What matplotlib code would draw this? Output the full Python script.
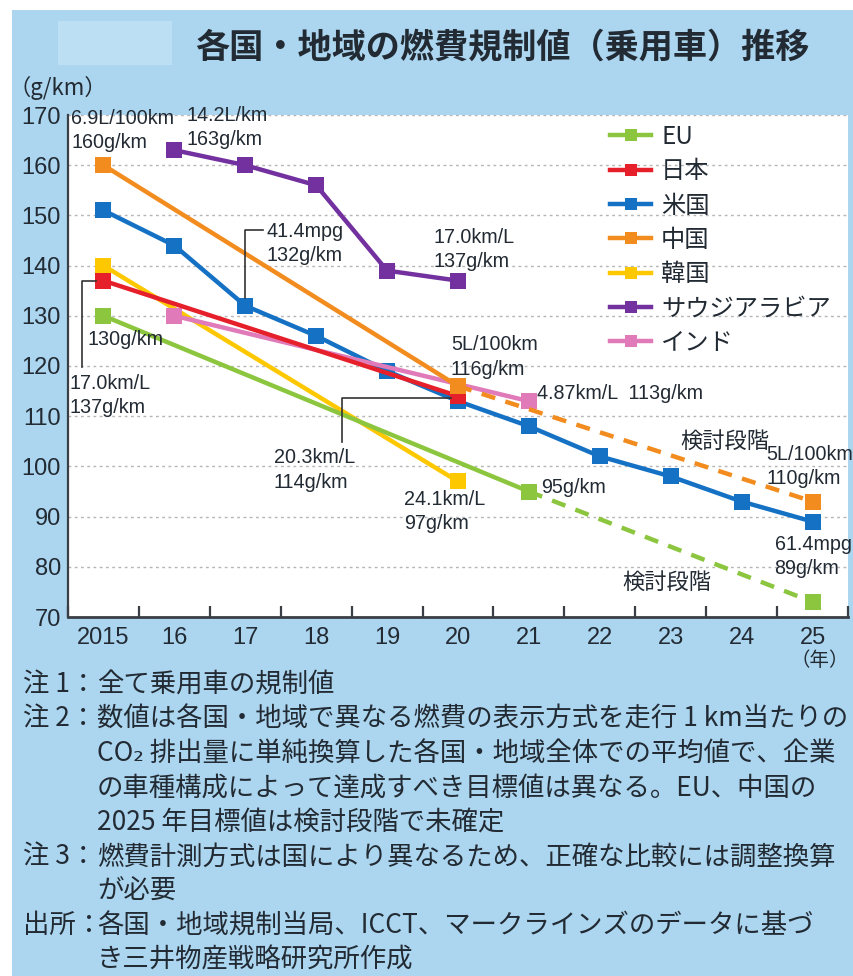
import numpy as np
import matplotlib
matplotlib.use("Agg")
import matplotlib.pyplot as plt
from matplotlib.lines import Line2D
from matplotlib.patches import Rectangle
from matplotlib.transforms import Affine2D
from matplotlib import font_manager
from matplotlib.font_manager import FontProperties

# ---------------- data ----------------
years = ["2015", "16", "17", "18", "19", "20", "21", "22", "23", "24", "25"]
nan = np.nan
eu = [130, nan, nan, nan, nan, nan, 95, nan, nan, nan, nan]
eu_plan = [nan, nan, nan, nan, nan, nan, nan, nan, nan, nan, 73]
japan = [137, nan, nan, nan, nan, 114, nan, nan, nan, nan, nan]
us = [151, 144, 132, 126, 119, 113, 108, 102, 98, 93, 89]
china = [160, nan, nan, nan, nan, 116, nan, nan, nan, nan, nan]
china_plan = [nan, nan, nan, nan, nan, nan, nan, nan, nan, nan, 93]
korea = [140, nan, nan, nan, nan, 97, nan, nan, nan, nan, nan]
saudi = [nan, 163, 160, 156, 139, 137, nan, nan, nan, nan, nan]
india = [nan, 130, nan, nan, nan, nan, 113, nan, nan, nan, nan]

series_names = ["EU", "日本", "米国", "中国", "韓国", "サウジアラビア", "インド"]
colors = {
    "EU": "#8cc63f",
    "日本": "#e5202a",
    "米国": "#1471c4",
    "中国": "#f28c1e",
    "韓国": "#fdc800",
    "サウジアラビア": "#7331a0",
    "インド": "#e07ab8",
}
yticks = [70, 80, 90, 100, 110, 120, 130, 140, 150, 160, 170]

title = "各国・地域の燃費規制値（乗用車）推移"
notes = [
    ("注 1：", "全て乗用車の規制値"),
    ("注 2：", "数値は各国・地域で異なる燃費の表示方式を走行 1 km当たりの"),
    ("", "CO₂ 排出量に単純換算した各国・地域全体での平均値で、企業"),
    ("", "の車種構成によって達成すべき目標値は異なる。EU、中国の"),
    ("", "2025 年目標値は検討段階で未確定"),
    ("注 3：", "燃費計測方式は国により異なるため、正確な比較には調整換算"),
    ("", "が必要"),
    ("出所：", "各国・地域規制当局、ICCT、マークラインズのデータに基づ"),
    ("", "き三井物産戦略研究所作成"),
]


def pick(name, fallback):
    try:
        font_manager.findfont(FontProperties(family=name), fallback_to_default=False)
        return name
    except ValueError:
        return fallback


JP = ["Noto Sans CJK JP", "DejaVu Sans"]
NUM = pick("Liberation Sans", "DejaVu Sans")
NARROW = pick("Liberation Sans Narrow", NUM)
narrow_size = 16 if NARROW == "Liberation Sans Narrow" else 14.2

W, H = 854, 976
BG = "#acd6ef"
TXT = "#222a33"

fig = plt.figure(figsize=(W / 100, H / 100), dpi=100, facecolor="white")
fig.patches.append(Rectangle((12 / W, 0), 1 - 12 / W, 1 - 10 / H,
                             transform=fig.transFigure, facecolor=BG,
                             edgecolor="none", zorder=-10))
fig.patches.append(Rectangle((58 / W, 1 - 65 / H), 114 / W, 44 / H,
                             transform=fig.transFigure, facecolor="#bcdff3",
                             edgecolor="none", zorder=-9))

ax = fig.add_axes([68 / W, 1 - 617 / H, 780 / W, (617 - 115) / H])
ax.set_facecolor("white")
ax.set_xlim(-0.5, 10.5)
ax.set_ylim(70, 170)

for s in ["top", "right"]:
    ax.spines[s].set_visible(False)
ax.spines["left"].set_color("#3a3f45")
ax.spines["left"].set_linewidth(1.6)
ax.spines["bottom"].set_color("#3a3f45")
ax.spines["bottom"].set_linewidth(2.0)

ax.set_yticks(yticks)
ax.set_yticklabels([str(v) for v in yticks], family=NUM, fontsize=17, color=TXT)
ax.set_xticks(range(len(years)))
ax.set_xticklabels(years, family=NUM, fontsize=17, color=TXT)
ax.set_xticks(np.arange(-0.5, len(years), 1.0), minor=True)
ax.tick_params(axis="y", length=0, pad=5)
ax.tick_params(axis="x", which="major", length=0, pad=7)
ax.tick_params(axis="x", which="minor", direction="in", length=8, width=1.6,
               color="#3a3f45")
ax.yaxis.grid(True, color="#b5b5b5", linestyle=(0, (2, 2.5)), linewidth=1.0)
ax.set_axisbelow(True)

x_all = np.arange(len(years))


def draw(values, name, z, plan=None):
    v = np.array(values, dtype=float)
    m = ~np.isnan(v)
    c = colors[name]
    ax.plot(x_all[m], v[m], color=c, lw=3.2, marker="s", ms=11.5, mew=0, zorder=z,
            solid_capstyle="butt")
    if plan is not None:
        p = np.array(plan, dtype=float)
        pm = ~np.isnan(p)
        last = np.where(m)[0][-1]
        xs = np.concatenate([[last], x_all[pm]])
        ys = np.concatenate([[v[last]], p[pm]])
        ax.plot(xs, ys, color=c, lw=3.2, ls=(0, (3.2, 2.4)), zorder=z - 0.5)
        ax.plot(x_all[pm], p[pm], ls="none", color=c, marker="s", ms=11.5, mew=0,
                zorder=z)


draw(korea, "韓国", 3)
draw(eu, "EU", 4, plan=eu_plan)
draw(us, "米国", 5)
draw(india, "インド", 6)
draw(japan, "日本", 7)
draw(china, "中国", 8, plan=china_plan)
draw(saudi, "サウジアラビア", 9)


def anchor(i, v):
    px, py = ax.transData.transform((i, v))
    return Affine2D().translate(px, py)


def note(i, v, dx, dy, text, **kw):
    opts = dict(family=NARROW, fontsize=narrow_size, color=TXT, ha="left",
                va="center", linespacing=1.35)
    opts.update(kw)
    ax.annotate(text, xy=(i, v), xytext=(dx, dy), textcoords="offset pixels",
                zorder=20, **opts)


def leader(i, v, pts):
    xs, ys = zip(*pts)
    ax.add_line(Line2D(xs, ys, transform=anchor(i, v), color="#333333", lw=1.2,
                       zorder=19, clip_on=False))


# value labels
note(0, china[0], -32, 35, "6.9L/100km\n160g/km")
note(1, saudi[1], 12, 23, "14.2L/km\n163g/km")
leader(2, us[2], [(0, 8), (0, 76), (18, 76)])
note(2, us[2], 21, 62, "41.4mpg\n132g/km")
note(5, saudi[5], -24, 31, "17.0km/L\n137g/km")
note(0, eu[0], -16, -24, "130g/km")
leader(0, japan[0], [(-7, 0), (-21.5, 0), (-21.5, -86)])
note(0, japan[0], -34, -115, "17.0km/L\n137g/km")
leader(5, japan[5], [(-7, -2), (-116, -2), (-116, -46)])
note(5, japan[5], -184, -74, "20.3km/L\n114g/km")
note(5, korea[5], -54, -30, "24.1km/L\n97g/km")
note(5, china[5], -7, 29, "5L/100km\n116g/km")
note(6, india[6], 8, 8, "4.87km/L  113g/km")
note(6, eu[6], 12, 4, "95g/km")
note(10, china_plan[10], -132, 60, "検討段階", family=JP, fontsize=16)
note(10, china_plan[10], -46, 35, "5L/100km\n110g/km", annotation_clip=False)
note(10, us[10], -38, -35, "61.4mpg\n89g/km")
note(10, eu_plan[10], -190, 20, "検討段階", family=JP, fontsize=16)

# legend
handles = [Line2D([0], [0], color=colors[n], lw=3.2, marker="s", ms=9, mew=0)
           for n in series_names]
ax.legend(handles, series_names, loc="upper left",
          bbox_to_anchor=(610 / W, 1 - 124 / H), bbox_transform=fig.transFigure,
          frameon=False, prop=FontProperties(family=JP, size=17.5),
          handlelength=1.7, handletextpad=0.4, labelspacing=0.34,
          borderpad=0, borderaxespad=0, labelcolor=TXT)

# titles and axis captions
fig.text(502 / W, 1 - 48 / H, title, family=JP, fontsize=24.6, weight="bold",
         color=TXT, ha="center", va="center")
fig.text(8 / W, 1 - 88 / H, "（g/km）", family=JP, fontsize=16, color=TXT,
         ha="left", va="center")
fig.text(820 / W, 1 - 661 / H, "（年）", family=JP, fontsize=14, color=TXT,
         ha="center", va="center")

# notes
y0, step = 685, 34.4
for k, (head, body) in enumerate(notes):
    y = 1 - (y0 + k * step) / H
    if head:
        fig.text(23 / W, y, head, family=JP, fontsize=19.0, color=TXT,
                 ha="left", va="center")
    fig.text(97 / W, y, body, family=JP, fontsize=19.0, color=TXT,
             ha="left", va="center")

fig.savefig("out.png", dpi=100, facecolor="white")
